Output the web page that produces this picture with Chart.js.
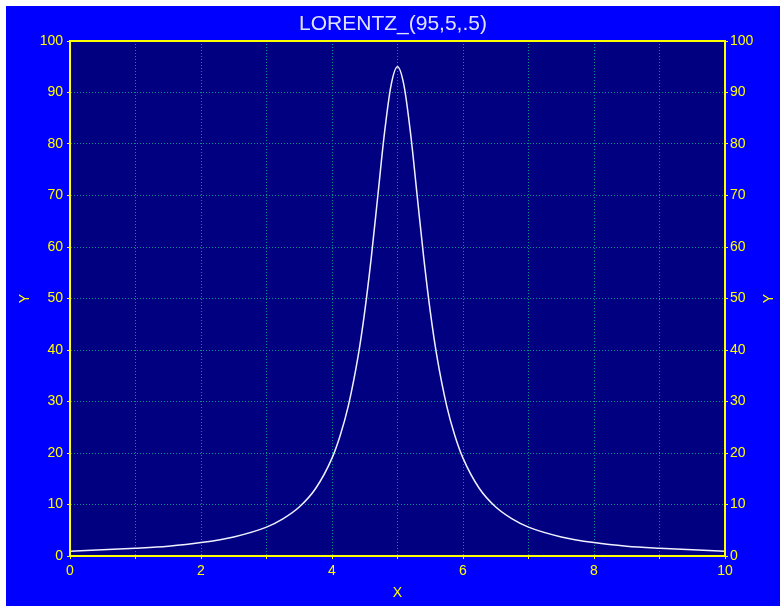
<!DOCTYPE html>
<html>
<head>
<meta charset="utf-8">
<script src="https://cdn.jsdelivr.net/npm/chart.js@4"></script>
<style>
  body { margin: 0; background: #ffffff; }
  #wrap { position: absolute; left: 6px; top: 6px; width: 774px; height: 600px; background: #0000ff; }
</style>
</head>
<body>
<div id="wrap"><canvas id="chart" width="774" height="600"></canvas></div>
<script>
// valores
const xValues = [0, 0.5, 1, 1.5, 2, 2.5, 3, 3.25, 3.5, 3.75, 4, 4.125, 4.25, 4.4, 4.5, 4.6, 4.7, 4.8, 4.9, 5,
                 5.1, 5.2, 5.3, 5.4, 5.5, 5.6, 5.75, 5.875, 6, 6.25, 6.5, 6.75, 7, 7.5, 8, 8.5, 9, 9.5, 10];
const yValues = [0.9, 1.2, 1.5, 1.9, 2.6, 3.7, 5.6, 7.2, 9.5, 13.1, 19, 23.4, 29.2, 38.9, 47.5, 58, 70, 82, 91.3, 95,
                 91.3, 82, 70, 58, 47.5, 38.9, 29.2, 23.4, 19, 13.1, 9.5, 7.2, 5.6, 3.7, 2.6, 1.9, 1.5, 1.2, 0.9];
const xTicks = [0, 2, 4, 6, 8, 10];
const titulo = 'LORENTZ_(95,5,.5)';

const amarelo = '#ffff00';
const fonte = 'Liberation Sans';

const pontos = xValues.map((x, i) => ({ x: x, y: yValues[i] }));

// fundo da área do gráfico, moldura e título Y da direita
const molduraPlugin = {
    id: 'moldura',
    beforeDraw(chart) {
        const { ctx, chartArea } = chart;
        ctx.save();
        ctx.fillStyle = '#000080';
        ctx.fillRect(chartArea.left, chartArea.top, chartArea.right - chartArea.left, chartArea.bottom - chartArea.top);
        ctx.restore();
    },
    afterDraw(chart) {
        const { ctx, chartArea } = chart;
        ctx.save();
        ctx.strokeStyle = amarelo;
        ctx.lineWidth = 2;
        ctx.strokeRect(chartArea.left, chartArea.top, chartArea.right - chartArea.left, chartArea.bottom - chartArea.top);
        ctx.translate(763, (chartArea.top + chartArea.bottom) / 2);
        ctx.rotate(-Math.PI / 2);
        ctx.fillStyle = amarelo;
        ctx.font = '14px ' + fonte;
        ctx.textAlign = 'center';
        ctx.textBaseline = 'middle';
        ctx.fillText('Y', 0, 0);
        ctx.restore();
    }
};

new Chart(document.getElementById('chart').getContext('2d'), {
    type: 'line',
    data: {
        datasets: [{
            data: pontos,
            borderColor: '#f0f0ff',
            borderWidth: 1.5,
            pointRadius: 0,
            cubicInterpolationMode: 'monotone',
            fill: false
        }]
    },
    options: {
        responsive: false,
        animation: false,
        devicePixelRatio: 1,
        layout: { padding: 0 },
        plugins: {
            legend: { display: false },
            tooltip: { enabled: false },
            title: {
                display: true,
                text: titulo,
                color: '#e0e0ff',
                font: { family: fonte, size: 21, weight: 'normal', lineHeight: 1 },
                padding: { top: 8, bottom: 6 }
            }
        },
        scales: {
            x: {
                type: 'linear',
                min: 0,
                max: 10,
                afterFit(scale) { scale.height = 50; },
                afterBuildTicks(scale) {
                    scale.ticks = [];
                    for (let v = 0; v <= 10; v++) scale.ticks.push({ value: v });
                },
                ticks: {
                    color: amarelo,
                    font: { family: fonte, size: 14 },
                    padding: 4,
                    maxRotation: 0,
                    autoSkip: false,
                    callback: v => xTicks.includes(v) ? String(v) : ''
                },
                grid: { color: '#009090', tickColor: amarelo, tickLength: 3, lineWidth: 1 },
                border: { display: true, color: amarelo, width: 2, dash: [1, 2] },
                title: {
                    display: true,
                    text: 'X',
                    color: amarelo,
                    font: { family: fonte, size: 14 },
                    padding: { top: 0, bottom: 4 }
                }
            },
            y: {
                type: 'linear',
                position: 'left',
                min: 0,
                max: 100,
                afterFit(scale) { scale.width = 64; },
                ticks: {
                    stepSize: 10,
                    color: amarelo,
                    font: { family: fonte, size: 14 },
                    padding: 4
                },
                grid: { color: '#009090', tickColor: amarelo, tickLength: 3, lineWidth: 1 },
                border: { display: true, color: amarelo, width: 2, dash: [1, 2] },
                title: {
                    display: true,
                    text: 'Y',
                    color: amarelo,
                    font: { family: fonte, size: 14 },
                    padding: { top: 10.6, bottom: 0 }
                }
            },
            y2: {
                type: 'linear',
                position: 'right',
                min: 0,
                max: 100,
                afterFit(scale) { scale.width = 55; },
                ticks: {
                    stepSize: 10,
                    color: amarelo,
                    font: { family: fonte, size: 14 },
                    padding: 2
                },
                grid: { drawOnChartArea: false, tickColor: amarelo, tickLength: 3 },
                border: { display: true, color: amarelo, width: 2 }
            }
        }
    },
    plugins: [molduraPlugin]
});
</script>
</body>
</html>
